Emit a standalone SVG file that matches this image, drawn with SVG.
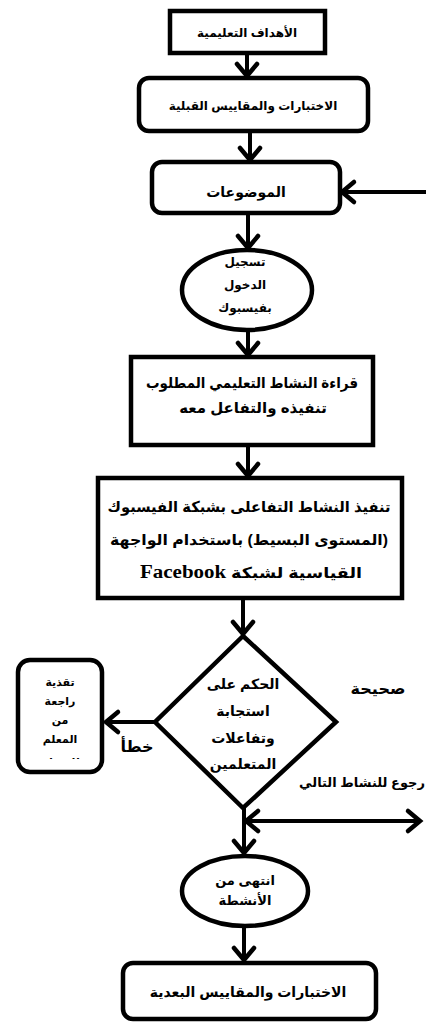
<svg xmlns="http://www.w3.org/2000/svg" width="426" height="1028" viewBox="0 0 426 1028">
<style>
.n{fill:#fff;stroke:#000;stroke-width:4.5}
.c{fill:none;stroke:#000;stroke-width:4;marker-end:url(#ah)}
.t{font-family:"Liberation Sans","DejaVu Sans",sans-serif;font-weight:bold;fill:#000;text-anchor:middle;direction:rtl}
</style>
<defs>
<marker id="ah" viewBox="-16 -14 20 28" refX="0" refY="0" markerWidth="20" markerHeight="28" markerUnits="userSpaceOnUse" orient="auto-start-reverse">
<path d="M-12,-10 L0,0 L-12,10" fill="none" stroke="#000" stroke-width="4.5" stroke-linecap="round" stroke-linejoin="miter"/>
</marker>
<clipPath id="fbclip"><rect x="18" y="660" width="84" height="99"/></clipPath>
</defs>
<g id="connectors">
<line class="c" x1="247" y1="54" x2="247" y2="76"/>
<line class="c" x1="250" y1="132" x2="250" y2="160"/>
<line class="c" x1="426" y1="192" x2="342" y2="192"/>
<line class="c" x1="248" y1="215" x2="248" y2="248"/>
<line class="c" x1="248" y1="330" x2="248" y2="355"/>
<line class="c" x1="248" y1="447" x2="248" y2="476"/>
<line class="c" x1="243" y1="600" x2="243" y2="634"/>
<line class="c" x1="155" y1="722" x2="106" y2="722"/>
<line class="c" x1="244" y1="808" x2="244" y2="853"/>
<line class="c" x1="246" y1="821" x2="420" y2="821" marker-start="url(#ah)"/>
<line class="c" x1="244" y1="927" x2="244" y2="960"/>
</g>
<g id="n1"><rect class="n" x="170" y="11" width="155" height="42" stroke-width="5"/><text class="t" x="247" y="37" font-size="12">الأهداف التعليمية</text></g>
<g id="n2"><rect class="n" x="139" y="78" width="229" height="53" rx="10"/><text class="t" x="253" y="110" font-size="12">الاختبارات والمقاييس القبلية</text></g>
<g id="n3"><rect class="n" x="152" y="162" width="188" height="51" rx="10"/><text class="t" x="246" y="197" font-size="14">الموضوعات</text></g>
<g id="n4"><ellipse class="n" cx="247" cy="290" rx="65" ry="40"/><text class="t" x="245" font-size="12"><tspan x="245" y="266">تسجيل</tspan><tspan x="245" y="289">الدخول</tspan><tspan x="245" y="312">بفيسبوك</tspan></text></g>
<g id="n5"><rect class="n" x="131" y="357" width="242" height="88"/><text class="t" font-size="15"><tspan x="252" y="388" textLength="212" lengthAdjust="spacingAndGlyphs">قراءة النشاط التعليمي المطلوب</tspan><tspan x="253" y="413">تنفيذه والتفاعل معه</tspan></text></g>
<g id="n6"><rect class="n" x="98" y="478" width="304" height="120" stroke-width="5"/><text class="t" font-size="15"><tspan x="249" y="512" textLength="283" lengthAdjust="spacingAndGlyphs">تنفيذ النشاط التفاعلى بشبكة الفيسبوك</tspan><tspan x="249" y="545" textLength="278" lengthAdjust="spacingAndGlyphs">(المستوى البسيط) باستخدام الواجهة</tspan><tspan x="251" y="578" textLength="222" lengthAdjust="spacingAndGlyphs">القياسية لشبكة <tspan font-family="'Liberation Serif',serif" font-size="18">Facebook</tspan></tspan></text></g>
<g id="n7"><polygon class="n" points="243,636 336,722 243,808 155,722"/><text class="t" x="243" font-size="14"><tspan x="243" y="689">الحكم على</tspan><tspan x="243" y="716">استجابة</tspan><tspan x="243" y="743">وتفاعلات</tspan><tspan x="243" y="769">المتعلمين</tspan></text></g>
<g id="n8"><rect class="n" x="18" y="660" width="84" height="112" rx="12"/><text class="t" x="60" font-size="11" clip-path="url(#fbclip)"><tspan x="60" y="686">تقذية</tspan><tspan x="60" y="705">راجعة</tspan><tspan x="60" y="724">من</tspan><tspan x="60" y="743">المعلم</tspan><tspan x="60" y="766">للمتعلم</tspan></text></g>
<g id="n9"><ellipse class="n" cx="245" cy="891" rx="63" ry="35"/><text class="t" x="245" font-size="13"><tspan x="245" y="885">انتهى من</tspan><tspan x="245" y="905">الأنشطة</tspan></text></g>
<g id="n10"><rect class="n" x="123" y="963" width="253" height="56" rx="10"/><text class="t" x="248" y="997" font-size="14">الاختبارات والمقاييس البعدية</text></g>
<g id="labels">
<text class="t" x="137" y="752" font-size="16">خطأ</text>
<text class="t" x="378" y="694" font-size="16">صحيحة</text>
<text class="t" x="362" y="787" font-size="13">رجوع للنشاط التالي</text>
</g>
</svg>
